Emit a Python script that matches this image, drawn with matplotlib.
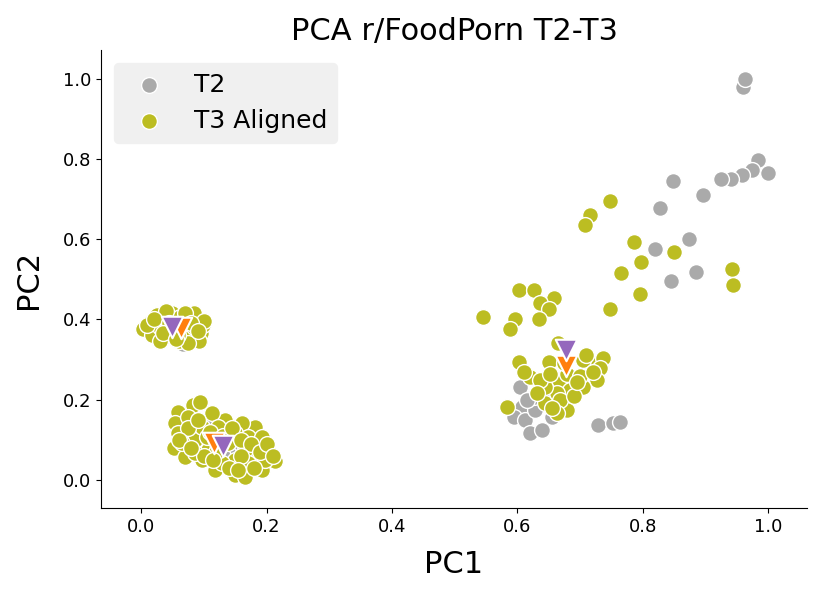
import matplotlib
matplotlib.use("Agg")
import matplotlib.pyplot as plt

# ---- T3 Aligned points ----
t3_x = [
    # upper-left cluster
    0.003, 0.012, 0.018, 0.025, 0.030, 0.034, 0.040, 0.045, 0.050, 0.055, 0.060, 0.062,
    0.068, 0.072, 0.078, 0.080, 0.085, 0.090, 0.095, 0.098, 0.092, 0.075, 0.030, 0.048,
    0.065, 0.085, 0.010, 0.040, 0.070, 0.100, 0.020, 0.058,
    0.045, 0.080, 0.035, 0.090, 0.055,
    # lower-left cluster
    0.059, 0.083, 0.094, 0.054, 0.052, 0.070, 0.097, 0.118, 0.150, 0.166, 0.192, 0.214,
    0.206, 0.182, 0.182, 0.161, 0.134, 0.113, 0.075, 0.070, 0.086, 0.065, 0.097, 0.123,
    0.150, 0.171, 0.192, 0.166, 0.150, 0.129, 0.107, 0.086, 0.171, 0.198, 0.139, 0.105,
    0.059,
    0.075, 0.090, 0.110, 0.130, 0.145, 0.160, 0.175, 0.190, 0.120, 0.100, 0.140, 0.160,
    0.180, 0.060, 0.080, 0.200, 0.210, 0.155, 0.115,
    # right cluster
    0.602, 0.626, 0.659, 0.636, 0.650, 0.545, 0.597, 0.589, 0.634, 0.747, 0.665, 0.603,
    0.620, 0.583, 0.650, 0.644, 0.680, 0.666, 0.721, 0.737, 0.705, 0.732, 0.727, 0.705,
    0.684, 0.663, 0.644, 0.636, 0.652, 0.679, 0.668, 0.663, 0.631,
    0.610, 0.690, 0.700, 0.710, 0.675, 0.655, 0.720, 0.695,
    # scattered upper right
    0.747, 0.716, 0.708, 0.786, 0.850, 0.797, 0.765, 0.943, 0.944, 0.796,
]
t3_y = [
    0.375, 0.392, 0.360, 0.410, 0.380, 0.350, 0.400, 0.365, 0.415, 0.385, 0.345, 0.405,
    0.370, 0.395, 0.410, 0.355, 0.380, 0.400, 0.365, 0.385, 0.345, 0.342, 0.345, 0.372,
    0.390, 0.415, 0.385, 0.420, 0.415, 0.395, 0.400, 0.360,
    0.390, 0.390, 0.365, 0.370, 0.350,
    0.170, 0.187, 0.195, 0.141, 0.079, 0.058, 0.050, 0.025, 0.012, 0.008, 0.025, 0.046,
    0.066, 0.075, 0.133, 0.141, 0.149, 0.166, 0.157, 0.116, 0.100, 0.091, 0.133, 0.133,
    0.116, 0.108, 0.108, 0.075, 0.050, 0.041, 0.075, 0.066, 0.041, 0.050, 0.091, 0.108,
    0.116,
    0.130, 0.150, 0.120, 0.110, 0.130, 0.100, 0.090, 0.070, 0.070, 0.060, 0.030, 0.060,
    0.030, 0.100, 0.080, 0.090, 0.060, 0.025, 0.050,
    0.474, 0.474, 0.452, 0.440, 0.427, 0.406, 0.402, 0.377, 0.400, 0.427, 0.340, 0.294,
    0.257, 0.182, 0.294, 0.191, 0.174, 0.249, 0.286, 0.303, 0.299, 0.278, 0.249, 0.232,
    0.224, 0.216, 0.232, 0.249, 0.265, 0.265, 0.199, 0.166, 0.216,
    0.270, 0.210, 0.260, 0.310, 0.290, 0.180, 0.270, 0.245,
    0.696, 0.660, 0.636, 0.593, 0.568, 0.543, 0.516, 0.525, 0.485, 0.464,
]

# ---- T2 points ----
t2_x = [
    # upper right
    0.960, 0.963, 0.984, 0.999, 0.974, 0.958, 0.941, 0.925, 0.896, 0.849, 0.828, 0.874,
    0.820, 0.885, 0.845,
    # right cluster
    0.604, 0.607, 0.594, 0.612, 0.620, 0.639, 0.628, 0.626, 0.655, 0.615, 0.728, 0.752,
    0.764, 0.650, 0.670, 0.690,
    # left clusters (mostly hidden)
    0.030, 0.050, 0.070, 0.060, 0.066,
    0.080, 0.100, 0.120, 0.140, 0.160, 0.180, 0.110, 0.130,
]
t2_y = [
    0.978, 1.000, 0.798, 0.765, 0.773, 0.759, 0.750, 0.750, 0.709, 0.745, 0.677, 0.599,
    0.575, 0.518, 0.496,
    0.232, 0.182, 0.157, 0.149, 0.116, 0.124, 0.174, 0.207, 0.157, 0.199, 0.137, 0.141,
    0.145, 0.200, 0.230, 0.250,
    0.375, 0.390, 0.380, 0.360, 0.338,
    0.120, 0.090, 0.100, 0.070, 0.090, 0.060, 0.140, 0.060,
]

# ---- cluster centroids ----
t2_cent_x = [0.064, 0.117, 0.678]
t2_cent_y = [0.378, 0.091, 0.285]
t3_cent_x = [0.049, 0.131, 0.678]
t3_cent_y = [0.380, 0.085, 0.324]

fig = plt.figure(figsize=(8.3, 5.97), dpi=100)
ax = fig.add_axes([0.1217, 0.1491, 0.8506, 0.7671])

ax.scatter(t2_x, t2_y, s=130, c='#aaaaaa', edgecolors='white', linewidths=1.0, label='T2', zorder=2)
ax.scatter(t3_x, t3_y, s=130, c='#bcbd22', edgecolors='white', linewidths=1.0, label='T3 Aligned', zorder=3)
ax.scatter(t2_cent_x, t2_cent_y, s=240, marker='v', c='#ff7f0e', edgecolors='white', linewidths=1.5, zorder=4)
ax.scatter(t3_cent_x, t3_cent_y, s=240, marker='v', c='#9467bd', edgecolors='white', linewidths=1.5, zorder=5)

ax.set_xlim(-0.064, 1.062)
ax.set_ylim(-0.070, 1.071)
ax.set_xticks([0.0, 0.2, 0.4, 0.6, 0.8, 1.0])
ax.set_yticks([0.0, 0.2, 0.4, 0.6, 0.8, 1.0])
ax.tick_params(labelsize=13)
ax.spines['top'].set_visible(False)
ax.spines['right'].set_visible(False)

ax.set_title('PCA r/FoodPorn T2-T3', fontsize=22, pad=7)
ax.set_xlabel('PC1', fontsize=22, labelpad=10)
ax.set_ylabel('PC2', fontsize=22, labelpad=14)

leg = ax.legend(loc='upper left', fontsize=18, frameon=True, facecolor='#f0f0f0',
                edgecolor='#f0f0f0', framealpha=1.0)

fig.savefig('out.png', dpi=100)
